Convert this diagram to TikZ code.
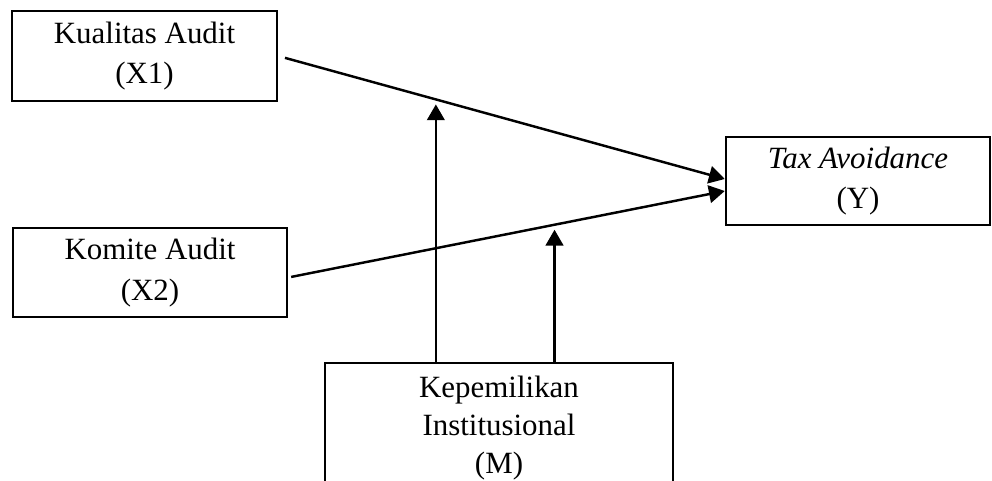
\documentclass[tikz,border=0pt]{standalone}
\usepackage{fontspec}
\setmainfont{Liberation Serif}
\usetikzlibrary{arrows.meta}

\begin{document}
\begin{tikzpicture}[line width=1.4pt]
	\tikzstyle{box}=[draw, black, rectangle, align=center, inner sep=0pt, font=\fontsize{17.6}{23}\selectfont]
	\tikzstyle{arr}=[-{Triangle[length=9pt,width=10pt]}]
	\useasboundingbox (0,0) rectangle (19.84,-9.62);
	\clip (0,0) rectangle (19.84,-9.62);
	% variabel
	\node [box, minimum width=5.3cm, minimum height=1.8cm] (x1) at (2.89,-1.12) {Kualitas Audit\\(X1)};
	\node [box, minimum width=5.48cm, minimum height=1.78cm] (x2) at (3.0,-5.45) {Komite Audit\\(X2)};
	\node [box, minimum width=5.28cm, minimum height=1.76cm] (y) at (17.16,-3.62) {\textit{Tax Avoidance}\\(Y)};
	\node [box, minimum width=6.96cm, minimum height=2.6cm, font=\fontsize{17.6}{21.5}\selectfont] (m) at (9.98,-8.56) {Kepemilikan\\Institusional\\(M)};
	% jalur
	\coordinate (y1) at ([yshift=0.04cm]y.west);
	\coordinate (y2) at ([yshift=-0.2cm]y.west);
	\coordinate (x2e) at ([yshift=-0.1cm]x2.east);
	\draw [arr, shorten <=0.14cm] (x1.east) -- (y1) coordinate[pos=0.353] (m1);
	\draw [arr, shorten <=0.06cm] (x2e) -- (y2) coordinate[pos=0.61] (m2);
	% moderasi
	\draw [arr, shorten >=0.1cm] (m.north -| m1) -- (m1);
	\draw [arr, shorten >=0.1cm] (m.north -| m2) -- (m2);
\end{tikzpicture}
\end{document}
